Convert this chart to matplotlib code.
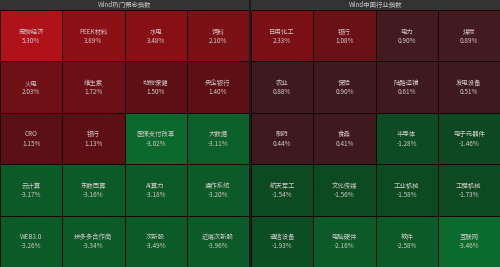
import matplotlib
matplotlib.use("Agg")
import matplotlib.pyplot as plt
from matplotlib.patches import Rectangle

plt.rcParams['font.family'] = ['Noto Sans CJK SC', 'DejaVu Sans']

left_title = "Wind热门概念指数"
left_names = ["宠物经济", "PEEK材料", "水电", "饲料",
              "火电", "维生素", "动物保健", "央企银行",
              "CRO", "银行", "医保支付改革", "大数据",
              "云计算", "东数西算", "AI算力", "操作系统",
              "WEB3.0", "拼多多合作商", "次新股", "近端次新股"]
left_values = [5.30, 3.89, 3.48, 2.10,
               2.03, 1.72, 1.50, 1.40,
               1.15, 1.13, -3.02, -3.11,
               -3.17, -3.16, -3.18, -3.20,
               -3.26, -3.34, -3.49, -3.96]

right_title = "Wind中国行业指数"
right_names = ["日用化工", "银行", "电力", "煤炭",
               "农业", "保险", "陆路运输", "发电设备",
               "制药", "食品", "半导体", "电子元器件",
               "航天军工", "文化传媒", "工业机械", "工程机械",
               "通信设备", "电脑硬件", "软件", "互联网"]
right_values = [2.33, 1.08, 0.90, 0.89,
                0.88, 0.90, 0.61, 0.51,
                0.44, 0.41, -1.28, -1.46,
                -1.54, -1.56, -1.58, -1.73,
                -1.93, -2.16, -2.58, -3.46]

left_colors = ["#b0121a", "#8c1016", "#871015", "#7a1117",
               "#6e1015", "#6a1016", "#5e0f15", "#5c0f14",
               "#5a1016", "#5c1016", "#0b692d", "#0b5f28",
               "#0b5a27", "#0b5a27", "#0b5a27", "#0b5a27",
               "#0b5a27", "#0b5a27", "#0b5a27", "#0b5a27"]
right_colors = ["#7a1016", "#6a1017", "#421a1f", "#421a1f",
                "#3e1a1f", "#3e1a1f", "#3e1a1f", "#3e1a1f",
                "#3e1a1f", "#3e1a1f", "#0c4b23", "#0c4822",
                "#0c4a22", "#0c4a22", "#0c4a22", "#0c4a22",
                "#0c4d24", "#0b5a28", "#0b5a28", "#0b6a2e"]

W, H = 500, 267
fig = plt.figure(figsize=(W / 100, H / 100), dpi=100, facecolor="#1c1c1c")

NCOL, NROW = 4, 5
header_h = 10
text_col = "#d2c8c8"
fs = 4.6


def panel(x0, w, title, names, values, colors):
    hax = fig.add_axes([x0 / W, 1 - header_h / H, w / W, header_h / H])
    hax.set_facecolor("#333333")
    hax.set_xticks([]); hax.set_yticks([])
    for s in hax.spines.values():
        s.set_visible(False)
    hax.text(0.5, 0.5, title, color="#c8c8c8", fontsize=fs, ha="center", va="center",
             transform=hax.transAxes)

    ax = fig.add_axes([x0 / W, 0, w / W, (H - header_h) / H])
    ax.set_xlim(0, NCOL)
    ax.set_ylim(NROW, 0)
    ax.set_xticks([]); ax.set_yticks([])
    for s in ax.spines.values():
        s.set_visible(False)
    for i, (n, v, c) in enumerate(zip(names, values, colors)):
        r, col = divmod(i, NCOL)
        ax.add_patch(Rectangle((col, r), 1, 1, facecolor=c, edgecolor="#150505",
                               linewidth=0.7))
        ax.text(col + 0.5, r + 0.42, n, color=text_col, fontsize=fs,
                ha="center", va="center")
        ax.text(col + 0.5, r + 0.6, f"{v:.2f}%", color=text_col, fontsize=fs,
                ha="center", va="center")


panel(0, 249, left_title, left_names, left_values, left_colors)
panel(251, 249, right_title, right_names, right_values, right_colors)

fig.savefig("out.png", dpi=100, facecolor=fig.get_facecolor())
